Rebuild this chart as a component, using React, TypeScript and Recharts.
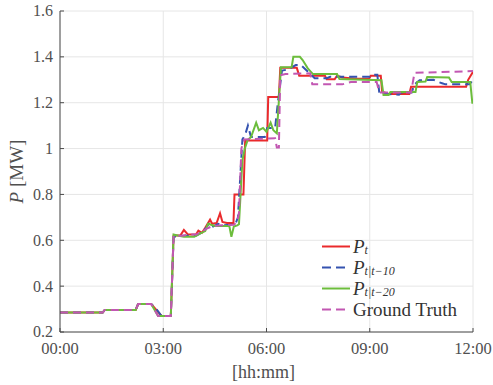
import React from 'react';
import { LineChart, Line, XAxis, YAxis, CartesianGrid, Legend, Label } from 'recharts';

// [hours, MW] breakpoints
const pt = [
  [0, 0.285], [1.24, 0.285], [1.3, 0.296], [2.2, 0.296], [2.27, 0.322], [2.65, 0.322],
  [2.78, 0.3], [2.95, 0.27], [3.22, 0.27], [3.3, 0.62], [3.5, 0.622], [3.6, 0.645],
  [3.72, 0.625], [3.95, 0.625], [4.02, 0.642], [4.12, 0.632], [4.22, 0.655], [4.36, 0.69],
  [4.42, 0.672], [4.55, 0.675], [4.65, 0.718], [4.72, 0.68], [4.85, 0.675], [5.04, 0.675],
  [5.07, 0.8], [5.33, 0.8], [5.38, 1.035], [6.02, 1.035], [6.05, 1.225], [6.36, 1.225],
  [6.4, 1.352], [6.88, 1.352], [6.95, 1.318], [7.7, 1.318], [7.75, 1.302], [7.98, 1.302],
  [8.05, 1.318], [8.2, 1.31], [8.6, 1.305], [8.98, 1.305], [9.03, 1.318], [9.32, 1.318],
  [9.36, 1.248], [9.55, 1.238], [10.15, 1.238], [10.2, 1.27], [11.8, 1.27], [11.86, 1.3],
  [12, 1.335],
];

const pt10 = [
  [0, 0.285], [1.24, 0.285], [1.3, 0.296], [2.2, 0.296], [2.27, 0.322], [2.65, 0.322],
  [2.8, 0.3], [2.95, 0.27], [3.22, 0.27], [3.3, 0.615], [3.55, 0.62], [3.95, 0.62],
  [4.1, 0.632], [4.25, 0.655], [4.35, 0.678], [4.45, 0.66], [4.6, 0.672], [4.75, 0.665],
  [4.95, 0.668], [5.1, 0.672], [5.17, 0.7], [5.3, 1.04], [5.38, 1.06], [5.46, 1.1],
  [5.55, 1.05], [5.95, 1.05], [6.02, 1.09], [6.25, 1.09], [6.33, 1.2], [6.45, 1.34],
  [6.62, 1.345], [6.85, 1.364], [7.0, 1.364], [7.4, 1.307], [7.75, 1.307], [7.85, 1.313],
  [9.02, 1.313], [9.07, 1.322], [9.22, 1.322], [9.28, 1.24], [9.85, 1.235], [9.9, 1.245],
  [10.22, 1.245], [10.3, 1.28], [10.45, 1.298], [10.85, 1.3], [11.0, 1.29], [11.1, 1.285],
  [11.2, 1.28], [11.9, 1.28], [12, 1.3],
];

const pt20 = [
  [0, 0.285], [1.24, 0.285], [1.3, 0.296], [2.2, 0.296], [2.27, 0.322], [2.65, 0.322],
  [2.85, 0.27], [3.22, 0.27], [3.3, 0.625], [3.45, 0.62], [3.6, 0.615], [3.9, 0.615],
  [4.05, 0.628], [4.22, 0.64], [4.3, 0.672], [4.5, 0.662], [4.92, 0.662], [4.98, 0.615],
  [5.05, 0.66], [5.15, 0.665], [5.2, 0.67], [5.3, 0.95], [5.37, 1.0], [5.45, 1.037],
  [5.55, 1.05], [5.7, 1.113], [5.78, 1.08], [5.9, 1.09], [6.0, 1.073], [6.12, 1.113],
  [6.2, 1.08], [6.3, 1.066], [6.36, 1.21], [6.42, 1.355], [6.73, 1.355], [6.78, 1.4],
  [6.97, 1.4], [7.05, 1.386], [7.2, 1.35], [7.35, 1.325], [8.05, 1.325], [8.12, 1.303],
  [9.34, 1.298], [9.4, 1.234], [9.55, 1.234], [9.6, 1.247], [10.33, 1.247], [10.38, 1.29],
  [10.62, 1.292], [10.67, 1.312], [11.3, 1.31], [11.38, 1.29], [11.92, 1.29], [11.98, 1.2],
  [12, 1.2],
];

const truth = [
  [0, 0.285], [1.24, 0.285], [1.3, 0.296], [2.2, 0.296], [2.27, 0.322], [2.65, 0.322],
  [2.85, 0.27], [3.22, 0.27], [3.3, 0.62], [3.55, 0.62], [3.75, 0.625], [3.95, 0.625],
  [4.1, 0.635], [4.25, 0.65], [4.4, 0.66], [4.6, 0.665], [5.05, 0.668], [5.15, 0.68],
  [5.2, 0.72], [5.27, 1.0], [5.35, 1.04], [6.25, 1.045], [6.3, 1.005], [6.36, 1.005],
  [6.4, 1.32], [6.55, 1.325], [7.27, 1.328], [7.33, 1.28], [8.2, 1.28], [8.45, 1.29],
  [9.2, 1.29], [9.28, 1.245], [10.2, 1.245], [10.3, 1.33], [12, 1.338],
];

const xTicks = [0, 3, 6, 9, 12];
const yTicks = [0.2, 0.4, 0.6, 0.8, 1, 1.2, 1.4, 1.6];

const FONT = "'Liberation Serif', 'DejaVu Serif', serif";
const AXIS = '#4a4a4a';
const TEXT = '#505050';

const series = [
  { key: 'pt', data: pt, color: '#ea2a2c', dash: undefined },
  { key: 'pt10', data: pt10, color: '#3553b0', dash: '8 5' },
  { key: 'pt20', data: pt20, color: '#6cbd3c', dash: undefined },
  { key: 'truth', data: truth, color: '#c257b2', dash: '8 5' },
];

const toRows = (pts: number[][]) => pts.map(([t, v]) => ({ t, v }));

const hhmm = (h: number) => `${String(h).padStart(2, '0')}:00`;

// tick renderers draw inward tick marks like the MATLAB box
const LeftTick = ({ x, y, payload }: any) => (
  <g>
    <line x1={x} x2={x + 4} y1={y} y2={y} stroke={AXIS} />
    <text x={x - 7} y={y} dy="0.34em" textAnchor="end" fill={TEXT} fontSize={16} style={{ fontFamily: FONT }}>
      {String(payload.value)}
    </text>
  </g>
);

const BottomTick = ({ x, y, payload }: any) => (
  <g>
    <line x1={x} x2={x} y1={y} y2={y - 4} stroke={AXIS} />
    <text x={x} y={y + 21.5} textAnchor="middle" fill={TEXT} fontSize={16.5} style={{ fontFamily: FONT }}>
      {hhmm(payload.value)}
    </text>
  </g>
);

const RightTick = ({ x, y }: any) => <line x1={x} x2={x - 4} y1={y} y2={y} stroke={AXIS} />;
const TopTick = ({ x, y }: any) => <line x1={x} x2={x} y1={y} y2={y + 4} stroke={AXIS} />;

const YTitle = ({ viewBox }: any) => {
  const cx = viewBox.x + 16;
  const cy = viewBox.y + viewBox.height / 2;
  return (
    <text
      x={cx}
      y={cy}
      dy="0.35em"
      textAnchor="middle"
      transform={`rotate(-90, ${cx}, ${cy})`}
      fill={TEXT}
      fontSize={19}
      style={{ fontFamily: FONT }}
    >
      <tspan fontStyle="italic">P</tspan> [MW]
    </text>
  );
};

const XTitle = ({ viewBox }: any) => (
  <text
    x={viewBox.x + viewBox.width / 2 - 3}
    y={viewBox.y + 46}
    textAnchor="middle"
    fill={TEXT}
    fontSize={18}
    style={{ fontFamily: FONT }}
  >
    [hh:mm]
  </text>
);

const legendItems = [
  { color: '#ea2a2c', dash: undefined, sub: 't' },
  { color: '#3553b0', dash: '9 5', sub: 't|t−10' },
  { color: '#6cbd3c', dash: undefined, sub: 't|t−20' },
  { color: '#c257b2', dash: '9 5', sub: null },
];

const LegendBox = () => (
  <div style={{ fontFamily: FONT, color: '#333' }}>
    {legendItems.map((it, i) => (
      <div key={i} style={{ display: 'flex', alignItems: 'center', height: 21 }}>
        <svg width={28} height={21} style={{ display: 'block' }}>
          <line x1={0} x2={28} y1={10.5} y2={10.5} stroke={it.color} strokeWidth={2} strokeDasharray={it.dash} />
        </svg>
        <span style={{ marginLeft: 3, fontSize: 19, lineHeight: '21px', whiteSpace: 'nowrap' }}>
          {it.sub === null ? (
            'Ground Truth'
          ) : (
            <>
              <i>P</i>
              <span style={{ fontSize: 12, fontStyle: 'italic', verticalAlign: '-0.1em', lineHeight: 0 }}>{it.sub}</span>
            </>
          )}
        </span>
      </div>
    ))}
  </div>
);

export default function App() {
  return (
    <div style={{ position: 'absolute', left: 0, top: 0, background: '#fff' }}>
      <LineChart width={493} height={385} margin={{ top: 11, right: 20, bottom: 0, left: 0 }}>
        <CartesianGrid stroke="#e6e6e6" strokeWidth={1} />
        <XAxis
          dataKey="t"
          type="number"
          domain={[0, 12]}
          ticks={xTicks}
          allowDataOverflow
          interval={0}
          height={53}
          tickSize={0}
          tickMargin={0}
          tickLine={false}
          tick={<BottomTick />}
          axisLine={{ stroke: AXIS }}
        >
          <Label content={<XTitle />} />
        </XAxis>
        <XAxis
          xAxisId="top"
          orientation="top"
          type="number"
          domain={[0, 12]}
          ticks={xTicks}
          allowDataOverflow
          interval={0}
          height={0}
          tickSize={0}
          tickMargin={0}
          tickLine={false}
          tick={<TopTick />}
          axisLine={{ stroke: AXIS }}
        />
        <YAxis
          type="number"
          domain={[0.2, 1.6]}
          ticks={yTicks}
          allowDataOverflow
          interval={0}
          width={60}
          tickSize={0}
          tickMargin={0}
          tickLine={false}
          tick={<LeftTick />}
          axisLine={{ stroke: AXIS }}
        >
          <Label content={<YTitle />} />
        </YAxis>
        <YAxis
          yAxisId="right"
          orientation="right"
          type="number"
          domain={[0.2, 1.6]}
          ticks={yTicks}
          allowDataOverflow
          interval={0}
          width={0}
          tickSize={0}
          tickMargin={0}
          tickLine={false}
          tick={<RightTick />}
          axisLine={{ stroke: AXIS }}
        />
        {series.map((s) => (
          <Line
            key={s.key}
            data={toRows(s.data)}
            dataKey="v"
            type="linear"
            stroke={s.color}
            strokeWidth={2}
            strokeDasharray={s.dash}
            dot={false}
            activeDot={false}
            isAnimationActive={false}
          />
        ))}
        <Legend
          layout="vertical"
          align="center"
          verticalAlign="middle"
          wrapperStyle={{ left: 322, top: 236, width: 165 }}
          content={<LegendBox />}
        />
      </LineChart>
    </div>
  );
}
